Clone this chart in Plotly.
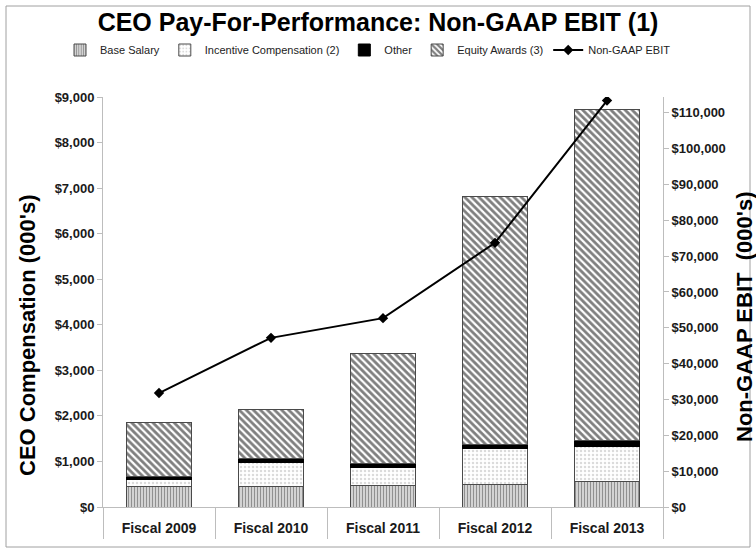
import plotly.graph_objects as go

categories = ["Fiscal 2009", "Fiscal 2010", "Fiscal 2011", "Fiscal 2012", "Fiscal 2013"]
base_salary = [440, 455, 462, 500, 550]
incentive_comp = [169, 512, 404, 780, 770]
other = [66, 96, 87, 100, 146]
equity_awards = [1171, 1077, 2417, 5430, 7264]
non_gaap_ebit = [31800, 47200, 52700, 73700, 113400]

W, H = 756, 553
L, R, T, B = 103, 663, 97, 507

ARIAL = "Liberation Sans, Arial, sans-serif"
edge = dict(color="#4a4a4a", width=1)

fig = go.Figure()
fig.add_bar(name="Base Salary", x=categories, y=base_salary,
            marker=dict(color="white", line=edge,
                        pattern=dict(shape="|", fgcolor="#222222", bgcolor="white",
                                     size=3, solidity=0.6, fillmode="overlay")))
fig.add_bar(name="Incentive Compensation (2)", x=categories, y=incentive_comp,
            marker=dict(color="white", line=edge,
                        pattern=dict(shape=".", fgcolor="#b5b5b5", bgcolor="white",
                                     size=4, solidity=0.3, fillmode="overlay")))
fig.add_bar(name="Other", x=categories, y=other,
            marker=dict(color="black", line=dict(color="black", width=1)))
fig.add_bar(name="Equity Awards (3)", x=categories, y=equity_awards,
            marker=dict(color="white", line=edge,
                        pattern=dict(shape="\\", fgcolor="#000000", bgcolor="white",
                                     size=5, solidity=0.55, fillmode="overlay")))
fig.add_scatter(name="Non-GAAP EBIT", x=categories, y=non_gaap_ebit, yaxis="y2",
                mode="lines+markers", line=dict(color="black", width=2),
                marker=dict(symbol="diamond", size=8, color="black"))

axcol = "#bdbdbd"
tickf = dict(family=ARIAL, size=13, color="#1a1a1a", weight="bold")
fig.update_layout(
    width=W, height=H,
    margin=dict(l=L, r=W - R, t=T, b=H - B, autoexpand=False),
    paper_bgcolor="white", plot_bgcolor="white",
    barmode="stack", bargap=0.42,
    title=dict(text="CEO Pay-For-Performance: Non-GAAP EBIT (1)",
               x=0.5, xanchor="center", y=1 - 22 / H, yanchor="middle",
               font=dict(family=ARIAL, size=25, color="black", weight="bold")),
    legend=dict(orientation="h", x=(60 - L) / (R - L), xanchor="left",
                y=(B - 50) / (B - T), yanchor="middle",
                font=dict(family=ARIAL, size=11, color="#222"),
                itemwidth=30, tracegroupgap=0, traceorder="normal"),
    xaxis=dict(showline=True, linecolor=axcol, linewidth=1,
               ticks="outside", tickson="boundaries", ticklen=31, tickcolor=axcol,
               ticklabelstandoff=8,
               tickfont=dict(family=ARIAL, size=14, color="#1a1a1a", weight="bold"),
               showgrid=False, zeroline=False),
    yaxis=dict(range=[0, 9000], dtick=1000, tickprefix="$", tickformat=",",
               showline=True, linecolor=axcol, ticks="outside", ticklen=5, tickcolor=axcol,
               tickfont=tickf, showgrid=False, zeroline=False),
    yaxis2=dict(range=[0, 114400], dtick=10000, tickprefix="$", tickformat=",",
                overlaying="y", side="right",
                showline=True, linecolor=axcol, ticks="outside", ticklen=5, tickcolor=axcol,
                tickfont=tickf, showgrid=False, zeroline=False),
    annotations=[
        dict(text="CEO Compensation (000's)", textangle=-90, showarrow=False,
             xref="paper", yref="paper", x=(27 - L) / (R - L), y=(B - 335) / (B - T),
             xanchor="center", yanchor="middle",
             font=dict(family=ARIAL, size=22, color="black", weight="bold")),
        dict(text="Non-GAAP EBIT  (000's)", textangle=-90, showarrow=False,
             xref="paper", yref="paper", x=(744 - L) / (R - L), y=(B - 317) / (B - T),
             xanchor="center", yanchor="middle",
             font=dict(family=ARIAL, size=22, color="black", weight="bold")),
    ],
    shapes=[dict(type="rect", xref="paper", yref="paper",
                 x0=(6 - L) / (R - L), x1=(750 - L) / (R - L),
                 y0=(B - 547) / (B - T), y1=(B - 6) / (B - T),
                 line=dict(color="#a0a0a0", width=1), fillcolor="rgba(0,0,0,0)", layer="below")],
)

fig.write_html("out.html", config={"displayModeBar": False},
               post_script="document.body.style.margin='0';")
